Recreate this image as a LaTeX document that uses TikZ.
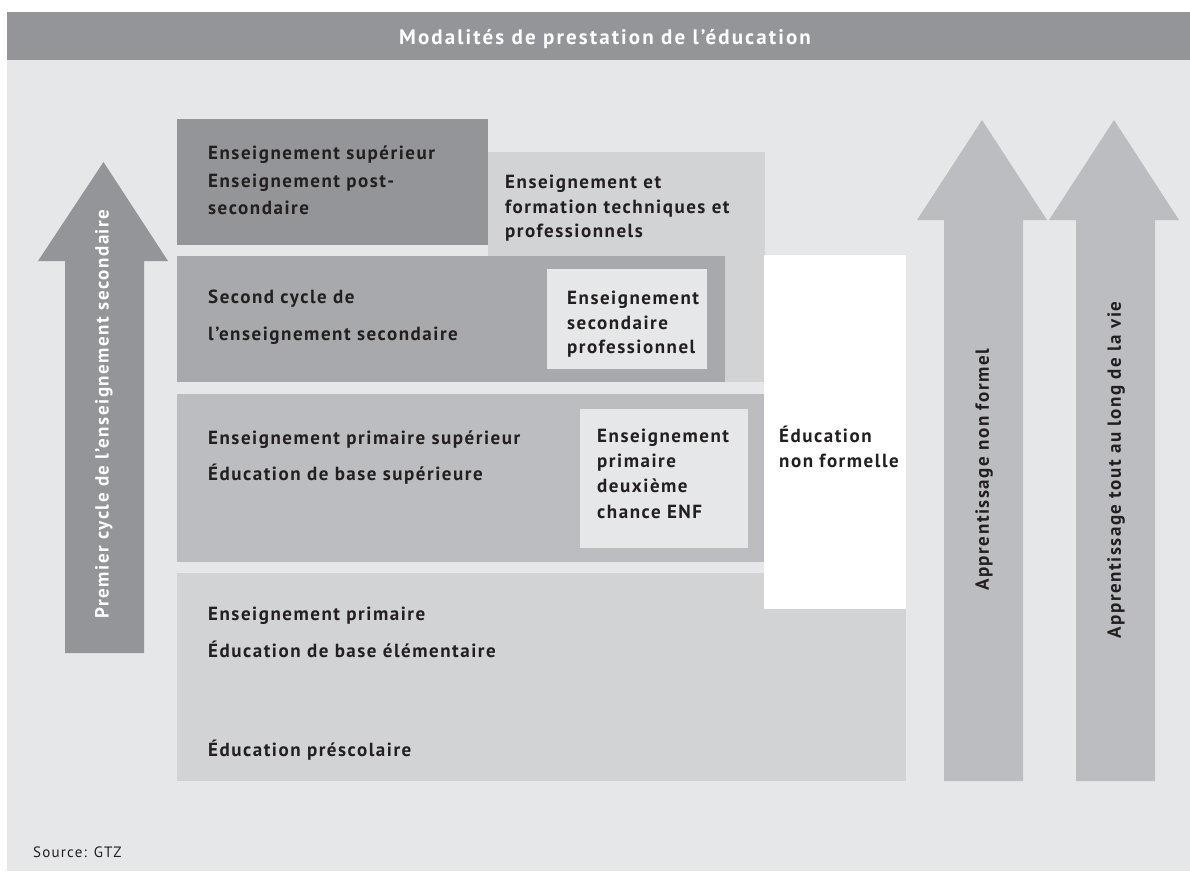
\documentclass[tikz,border=0pt]{standalone}
\usepackage{fontspec}
\newfontfamily\dinfont[LetterSpace=8,BoldFont={PT Sans Bold}]{PT Sans}
\newfontfamily\dintitle[LetterSpace=10,BoldFont={PT Sans Bold}]{PT Sans}
\newcommand\bodyfont{\dinfont\bfseries\fontsize{19}{24}\selectfont}
\newcommand\titlefont{\dintitle\bfseries\fontsize{21}{24}\selectfont}
\newcommand\srcfont{\dinfont\fontsize{15}{18}\selectfont}
\definecolor{gDark}{HTML}{939598}
\definecolor{gMid}{HTML}{A7A9AC}
\definecolor{gSoft}{HTML}{BBBDC0}
\definecolor{gLight}{HTML}{D1D3D4}
\definecolor{gBack}{HTML}{E6E7E8}
\definecolor{txt}{HTML}{231F20}
\tikzset{
  panel/.style={inner sep=0pt, outer sep=0pt, anchor=north west, draw=none},
  lbl/.style={anchor=base west, inner sep=0pt, text=txt, font=\bodyfont},
  vlbl/.style={anchor=center, inner sep=0pt, rotate=90, font=\bodyfont},
}
\begin{document}
\begin{tikzpicture}[x=1pt,y=-1pt]
\useasboundingbox (0,0) rectangle (1190,871);
% background and header
\fill[white] (0,0) rectangle (1190,871);
\node[panel, fill=gBack, minimum width=1183pt, minimum height=811pt] (bg) at (7,60) {};
\node[panel, fill=gDark, minimum width=1183pt, minimum height=48pt] (head) at (7,12) {};
\node[anchor=base, inner sep=0pt, text=white, font=\titlefont] (title) at (605,44) {Modalités de prestation de l’éducation};
% boxes
\node[panel, fill=gLight, minimum width=277pt, minimum height=230pt] (tvet) at (488,152) {};
\node[panel, fill=gDark, minimum width=311pt, minimum height=126pt] (sup) at (177,119) {};
\node[panel, fill=gMid, minimum width=548pt, minimum height=126pt] (sec) at (177,256) {};
\node[panel, fill=gBack, minimum width=160pt, minimum height=100pt] (secpro) at (547,269) {};
\node[panel, fill=gSoft, minimum width=588pt, minimum height=168pt] (prim) at (177,394) {};
\node[panel, fill=gBack, minimum width=168pt, minimum height=139pt] (enf) at (580,409) {};
\node[panel, fill=gLight, minimum width=729pt, minimum height=208pt] (base) at (177,573) {};
\node[panel, fill=white, minimum width=142pt, minimum height=354pt] (nf) at (764,255) {};
% arrows
\fill[gDark] (65,653) -- (65,261) -- (38,261) -- (103.5,162) -- (168,261) -- (144,261) -- (144,653) -- cycle;
\fill[gSoft] (944,781) -- (944,220) -- (917,220) -- (982,120) -- (1047,220) -- (1023,220) -- (1023,781) -- cycle;
\fill[gSoft] (1076,781) -- (1076,220) -- (1049,220) -- (1114,120) -- (1179,220) -- (1155,220) -- (1155,781) -- cycle;
\node[vlbl, text=white] (larr) at (104,414) {Premier cycle de l’enseignement secondaire};
\node[vlbl, text=txt] (rarr1) at (984,470) {Apprentissage non formel};
\node[vlbl, text=txt] (rarr2) at (1116,470) {Apprentissage tout au long de la vie};
% texts
\node[lbl] (t1a) at (208,159) {Enseignement supérieur};
\node[lbl] (t1b) at (208,187) {Enseignement post-};
\node[lbl] (t1c) at (208,214) {secondaire};
\node[lbl] (t2a) at (505,188) {Enseignement et};
\node[lbl] (t2b) at (505,213) {formation techniques et};
\node[lbl] (t2c) at (505,237) {professionnels};
\node[lbl] (t3a) at (208,303) {Second cycle de};
\node[lbl] (t3b) at (208,340) {l’enseignement secondaire};
\node[lbl] (t4a) at (567,304) {Enseignement};
\node[lbl] (t4b) at (567,329) {secondaire};
\node[lbl] (t4c) at (567,353) {professionnel};
\node[lbl] (t5a) at (208,444) {Enseignement primaire supérieur};
\node[lbl] (t5b) at (208,480) {Éducation de base supérieure};
\node[lbl] (t6a) at (597,442) {Enseignement};
\node[lbl] (t6b) at (597,467) {primaire};
\node[lbl] (t6c) at (597,492) {deuxième};
\node[lbl] (t6d) at (597,518) {chance ENF};
\node[lbl] (t7a) at (779,442) {Éducation};
\node[lbl] (t7b) at (779,467) {non formelle};
\node[lbl] (t8a) at (208,620) {Enseignement primaire};
\node[lbl] (t8b) at (208,657) {Éducation de base élémentaire};
\node[lbl] (t8c) at (208,756) {Éducation préscolaire};
\node[lbl, font=\srcfont] (src) at (33,857) {Source: GTZ};
\end{tikzpicture}
\end{document}
